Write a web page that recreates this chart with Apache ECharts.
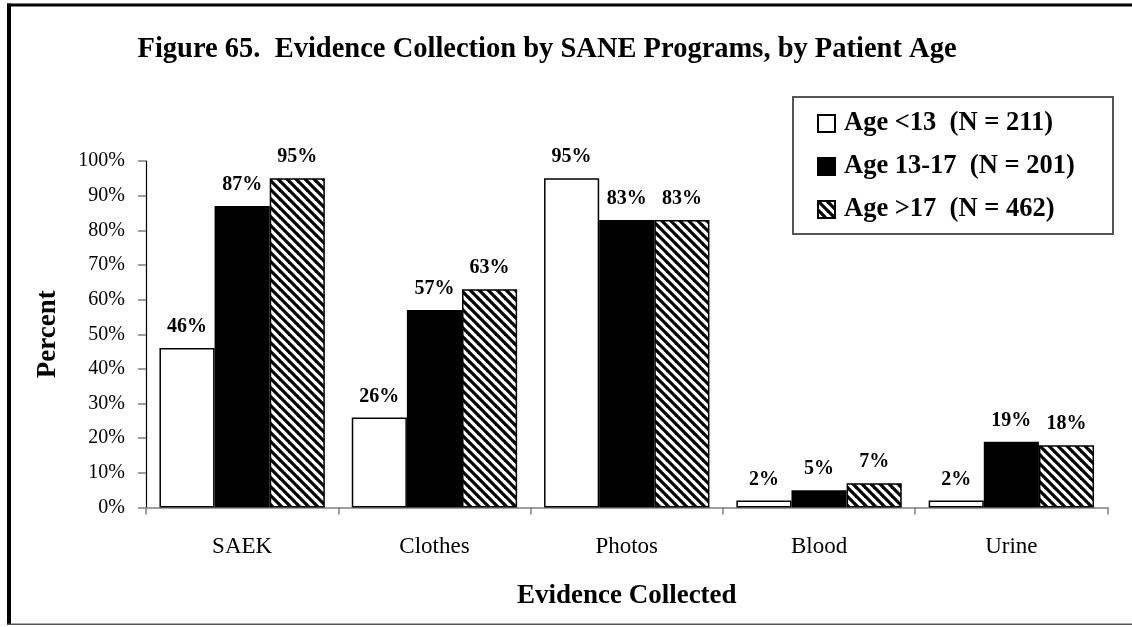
<!DOCTYPE html>
<html>
<head>
<meta charset="utf-8">
<script src="https://cdn.jsdelivr.net/npm/echarts@6/dist/echarts.min.js"></script>
<style>
  html, body { margin: 0; padding: 0; background: #fff; }
  #chart { width: 1132px; height: 627px; }
</style>
</head>
<body>
<div id="chart"></div>
<script>
// Evidence collected, percent of patients in each age group
const categories = ['SAEK', 'Clothes', 'Photos', 'Blood', 'Urine'];
const seriesNames = ['Age <13  (N = 211)', 'Age 13-17  (N = 201)', 'Age >17  (N = 462)'];
const ageUnder13 = [46, 26, 95, 2, 2];
const age13to17 = [87, 57, 83, 5, 19];
const ageOver17 = [95, 63, 83, 7, 18];

const SERIF = '"Liberation Serif", "Times New Roman", serif';

// diagonal black/white stripe tile for the oldest group
function stripeTile() {
  const size = 9;
  const c = document.createElement('canvas');
  c.width = size; c.height = size;
  const g = c.getContext('2d');
  g.fillStyle = '#fff';
  g.fillRect(0, 0, size, size);
  g.strokeStyle = '#000';
  g.lineWidth = 3.2;
  [-size, 0, size].forEach(function (o) {
    g.beginPath();
    g.moveTo(o - 1, -1);
    g.lineTo(o + size + 1, size + 1);
    g.stroke();
  });
  return c;
}

const labelStyle = {
  show: true,
  position: 'top',
  distance: 11,
  formatter: '{c}%',
  fontFamily: SERIF,
  fontWeight: 'bold',
  fontSize: 20,
  color: '#000'
};

function barSeries(name, data, fill) {
  return {
    name: name,
    type: 'bar',
    data: data,
    barGap: '0%',
    barCategoryGap: '14%',
    itemStyle: { color: fill, borderColor: '#000', borderWidth: 1.5 },
    label: labelStyle,
    emphasis: { disabled: true }
  };
}

const chart = echarts.init(document.getElementById('chart'), null, { renderer: 'canvas' });

chart.setOption({
  animation: false,
  backgroundColor: '#fff',
  grid: { left: 146, right: 24.5, top: 161, bottom: 119.5, containLabel: false },
  graphic: [
    { type: 'rect', z: 0, shape: { x: 7, y: 3.5, width: 1125, height: 3 }, style: { fill: '#000' } },
    { type: 'rect', z: 0, shape: { x: 7, y: 3.5, width: 4, height: 621 }, style: { fill: '#000' } },
    { type: 'rect', z: 0, shape: { x: 7, y: 623.5, width: 1125, height: 1.5 }, style: { fill: '#555' } },
    { type: 'rect', z: 1, shape: { x: 793, y: 97, width: 320, height: 137 }, style: { fill: '#fff', stroke: '#555', lineWidth: 2 } },
    {
      type: 'text', z: 2, x: 547, y: 50,
      style: {
        text: 'Figure 65.  Evidence Collection by SANE Programs, by Patient Age',
        fontFamily: SERIF, fontWeight: 'bold', fontSize: 28.5, fill: '#000',
        textAlign: 'center', textVerticalAlign: 'middle', align: 'center', verticalAlign: 'middle'
      }
    }
  ],
  legend: {
    orient: 'vertical',
    left: 793,
    top: 97,
    padding: [13, 10, 10, 24],
    itemWidth: 17,
    itemHeight: 17,
    itemGap: 16,
    icon: 'rect',
    selectedMode: false,
    textStyle: { fontFamily: SERIF, fontWeight: 'bold', fontSize: 26.5, lineHeight: 26, color: '#000', padding: [0, 0, 0, 4] },
    data: seriesNames
  },
  xAxis: {
    type: 'category',
    data: categories,
    name: 'Evidence Collected',
    nameLocation: 'middle',
    nameGap: 75,
    nameTextStyle: { fontFamily: SERIF, fontWeight: 'bold', fontSize: 27, color: '#000' },
    axisLine: { lineStyle: { color: '#808080', width: 1.5 } },
    axisTick: { show: true, alignWithLabel: false, length: 7, lineStyle: { color: '#808080', width: 1.5 } },
    axisLabel: { fontFamily: SERIF, fontSize: 23, color: '#000', margin: 28 },
    splitLine: { show: false }
  },
  yAxis: {
    type: 'value',
    min: 0,
    max: 100,
    interval: 10,
    name: 'Percent',
    nameLocation: 'middle',
    nameGap: 84,
    nameTextStyle: { fontFamily: SERIF, fontWeight: 'bold', fontSize: 27, color: '#000' },
    axisLine: { show: true, lineStyle: { color: '#000', width: 1.2 } },
    axisTick: { show: true, length: 8, lineStyle: { color: '#808080', width: 1.5 } },
    axisLabel: { formatter: '{value}%', fontFamily: SERIF, fontSize: 20, color: '#000', margin: 21 },
    splitLine: { show: false }
  },
  series: [
    barSeries(seriesNames[0], ageUnder13, '#fff'),
    barSeries(seriesNames[1], age13to17, '#000'),
    barSeries(seriesNames[2], ageOver17, { image: stripeTile(), repeat: 'repeat' })
  ]
});
</script>
</body>
</html>
